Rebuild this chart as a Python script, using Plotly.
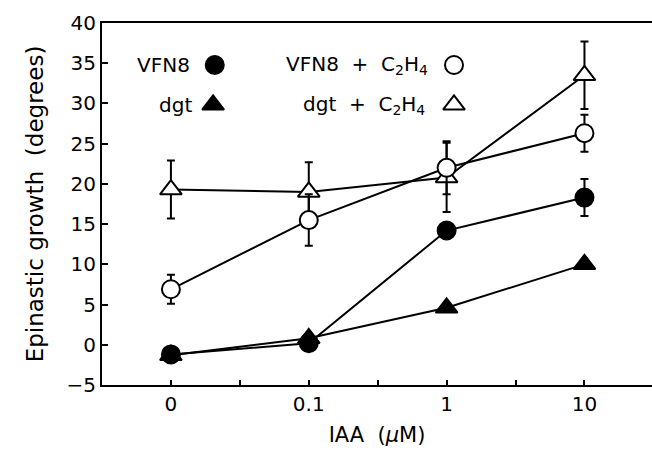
import plotly.graph_objects as go

categories = ["0", "0.1", "1", "10"]
xpos = [0, 1, 2, 3]

vfn8 = [-1.2, 0.2, 14.2, 18.3]
vfn8_err = [0, 0, 0, 2.3]
dgt = [-1.3, 0.8, 4.6, 10.0]
dgt_err = [0, 0, 0, 0]
vfn8_c2h4 = [6.9, 15.5, 22.0, 26.3]
vfn8_c2h4_err = [1.8, 3.2, 3.3, 2.3]
dgt_c2h4 = [19.3, 19.0, 20.8, 33.5]
dgt_c2h4_err = [3.6, 3.7, 4.3, 4.2]

yticks = [-5, 0, 5, 10, 15, 20, 25, 30, 35, 40]

FONT = "DejaVu Sans"
BLACK = "#000000"
WHITE = "#ffffff"

fig = go.Figure()

def add(y, err, symbol, filled):
    fig.add_trace(go.Scatter(
        x=xpos, y=y, mode="lines+markers",
        line=dict(color=BLACK, width=2),
        marker=dict(symbol=symbol, size=18 if symbol == "circle" else 19,
                    color=BLACK if filled else WHITE,
                    line=dict(color=BLACK, width=2)),
        error_y=dict(type="data", array=err, visible=True, color=BLACK,
                     thickness=2, width=4),
        showlegend=False,
    ))

add(dgt_c2h4, dgt_c2h4_err, "triangle-up", False)
add(vfn8_c2h4, vfn8_c2h4_err, "circle", False)
add(dgt, dgt_err, "triangle-up", True)
add(vfn8, vfn8_err, "circle", True)

# legend keys, placed on an overlay axis running 0..1
leg_x = [0.205, 0.202, 0.64, 0.64]
leg_y = [0.884, 0.774, 0.884, 0.774]
leg_sym = ["circle", "triangle-up", "circle", "triangle-up"]
leg_fill = [BLACK, BLACK, WHITE, WHITE]
for lx, ly, ls, lf in zip(leg_x, leg_y, leg_sym, leg_fill):
    fig.add_trace(go.Scatter(
        x=[lx], y=[ly], mode="markers", xaxis="x2", yaxis="y2",
        marker=dict(symbol=ls, size=18 if ls == "circle" else 19, color=lf,
                    opacity=1, line=dict(color=BLACK, width=2)),
        showlegend=False, hoverinfo="skip",
    ))

legend_texts = ["VFN8", "dgt", "VFN8  +  C<sub>2</sub>H<sub>4</sub>", "dgt  +  C<sub>2</sub>H<sub>4</sub>"]
legend_tx = [0.163, 0.168, 0.597, 0.591]
for t, xx, yy in zip(legend_texts, legend_tx, leg_y):
    fig.add_annotation(x=xx, y=yy, xref="paper", yref="paper", text=t,
                       showarrow=False, xanchor="right", yanchor="middle",
                       font=dict(family=FONT, size=20, color=BLACK))

fig.update_layout(
    width=652, height=455,
    margin=dict(l=102, r=0, t=23, b=70),
    paper_bgcolor="white", plot_bgcolor="white",
    font=dict(family=FONT, size=20, color=BLACK),
    xaxis=dict(
        range=[-0.5, 3.49], tickmode="array", tickvals=xpos, ticktext=categories,
        ticks="inside", ticklen=5, tickwidth=1.5, tickcolor=BLACK,
        minor=dict(dtick=0.5, tick0=0, ticks="inside", ticklen=5, tickwidth=1.5, tickcolor=BLACK),
        showline=True, linecolor=BLACK, linewidth=2, mirror=True,
        showgrid=False, zeroline=False,
        title=dict(text="IAA  (<i>μ</i>M)", font=dict(family=FONT, size=21, color=BLACK), standoff=12),
        tickfont=dict(family=FONT, size=20, color=BLACK),
    ),
    yaxis=dict(
        range=[-5, 40], tickmode="array", tickvals=yticks,
        ticktext=[("\u2212" + str(-v)) if v < 0 else str(v) for v in yticks],
        ticks="inside", ticklen=6, tickwidth=1.5, tickcolor=BLACK,
        showline=True, linecolor=BLACK, linewidth=2,
        showgrid=False, zeroline=False,
        title=dict(text="Epinastic growth  (degrees)", font=dict(family=FONT, size=23, color=BLACK), standoff=16),
        tickfont=dict(family=FONT, size=20, color=BLACK),
    ),
    xaxis2=dict(range=[0, 1], overlaying="x", visible=False, fixedrange=True),
    yaxis2=dict(range=[0, 1], overlaying="y", visible=False, fixedrange=True),
)

fig.write_html("out.html")
